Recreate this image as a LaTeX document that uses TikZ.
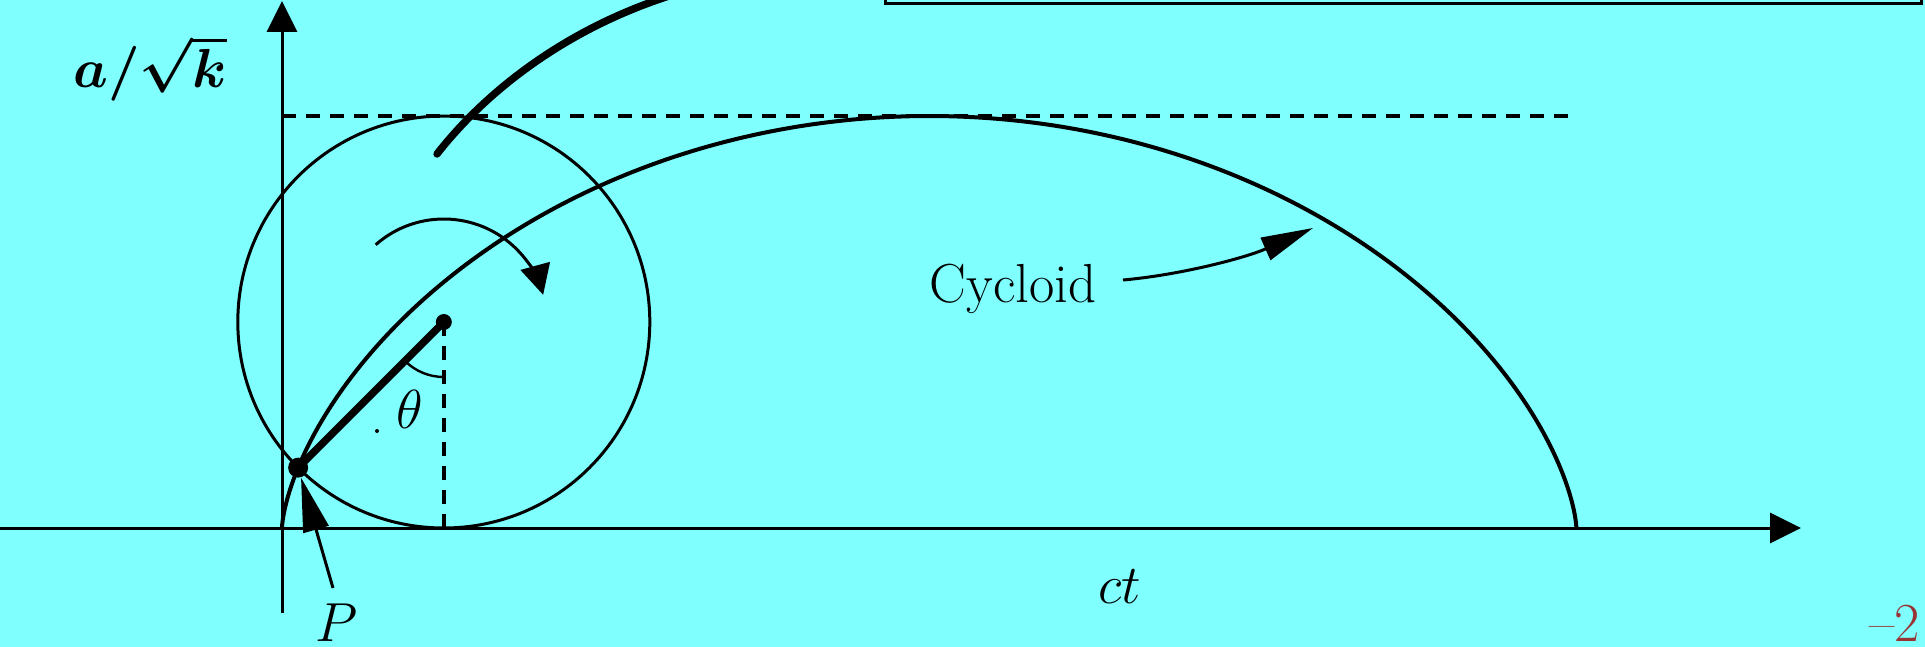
\RequirePackage{fix-cm}
\documentclass[tikz,border=0pt]{standalone}
\usepackage{amsmath}
\usetikzlibrary{arrows.meta}
\definecolor{bgcyan}{HTML}{80FFFF}
\definecolor{pagered}{HTML}{993333}
\begin{document}
\begin{tikzpicture}[x=0.5pt,y=-0.5pt,
  every node/.style={font=\fontsize{27.5}{33}\selectfont, inner sep=0pt},
  axisline/.style={line width=1.5pt,-{Triangle[length=15.5pt,width=15pt]}},
  curveline/.style={line width=1.6pt},
  heavyline/.style={line width=3.7pt},
  guideline/.style={line width=1.7pt, dash pattern=on 7pt off 5pt},
  pointer/.style={line width=1.5pt},
  dotnode/.style={circle, fill=black, inner sep=0pt}]
\fill[bgcyan] (0,0) rectangle (1925,647);
\useasboundingbox (0,0) rectangle (1925,647);
\clip (0,0) rectangle (1925,647);
% coordinates
\coordinate (C) at (443.8,322);
\coordinate (G) at (443.8,528);
\coordinate (yb) at (282,613);
\coordinate (yt) at (282,1);
\coordinate (xl) at (0,528);
\coordinate (xr) at (1801,528);
\coordinate (dl) at (282,116);
\coordinate (dr) at (1575,116);
% top box
\draw[line width=1.5pt] (885,-20) rectangle (1921,4);
% axes
\draw[axisline] (xl) -- (xr);
\draw[axisline] (yb) -- (yt);
% dashed guides
\draw[guideline] (dl) -- (dr);
\draw[guideline] (C) -- (G);
% rolling circle
\draw[curveline, line width=1.5pt] (C) circle[radius=206];
% cycloid
\draw[curveline, line width=2pt] plot[domain=0:6.2832, samples=200, smooth]
  ({282+206*(\x - sin(\x r))}, {528-206*(1-cos(\x r))});
% upper heavy curve
\draw[heavyline, line cap=round] (437,154) .. controls (487,90) and (570,25) .. (682,-8);
% radius
\node[dotnode, minimum size=8pt] (Cdot) at (C) {};
\node[dotnode, minimum size=10pt] (Pdot) at ([shift={(135:206)}]C) {};
\draw[heavyline] (Cdot.center) -- (Pdot.center);
% angle arc
\draw[line width=1.2pt] ([shift={(90:55)}]C) arc[start angle=90, end angle=135, radius=55];
\node[dotnode, minimum size=2pt] (speck) at (377,431) {};
% rotation arrow
\draw[pointer,-{Triangle[length=15pt,width=15pt]}] ([shift={(-131.4:103)}]C)
  arc[start angle=-131.4, end angle=-15.3, radius=103];
% labels
\node[anchor=base] (ylab) at (150,88) {$\boldsymbol{a/\sqrt{k}}$};
\node[anchor=base] (cyc) at (1013,302) {Cycloid};
\node[anchor=base] (xlab) at (1120,603) {$ct$};
\node[anchor=base] (plab) at (337,641) {$P$};
\node[anchor=base] (th) at (410,428) {$\theta$};
\node[anchor=base west, text=pagered] (pg) at (1869,641) {--2};
% pointers
\coordinate (cycstart) at (1123,280);
\coordinate (cyctip) at (1313,228);
\draw[pointer,-{Triangle[length=26pt,width=12pt]}] (cycstart) .. controls (1180,275) and (1245,258) .. (cyctip);
\coordinate (pstart) at (333,588);
\draw[pointer,-{Triangle[length=27pt,width=13pt]}] (pstart) -- (Pdot);
\end{tikzpicture}
\end{document}
